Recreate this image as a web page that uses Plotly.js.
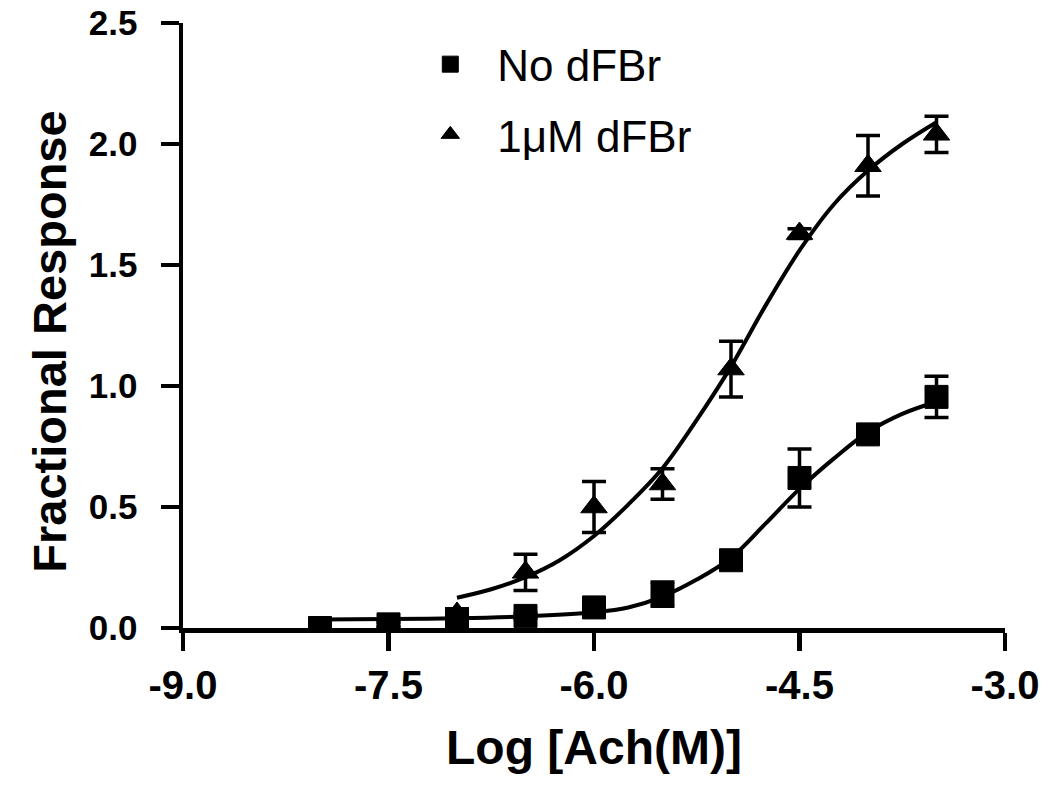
<!DOCTYPE html>
<html>
<head>
<meta charset="utf-8">
<script src="https://cdn.plot.ly/plotly-3.0.1.min.js"></script>
<style>html,body{margin:0;padding:0;background:#fff;}#chart{width:1050px;height:785px;}</style>
</head>
<body>
<div id="chart"></div>
<script>
// Measured points (log concentration of Ach)
const logAchNo = [-8.0, -7.5, -7.0, -6.5, -6.0, -5.5, -5.0, -4.5, -4.0, -3.5];
const respNo = [0.00, 0.015, 0.03, 0.05, 0.085, 0.14, 0.28, 0.62, 0.80, 0.955];
const errNo = [0.01, 0.01, 0.01, 0.01, 0.015, 0.05, 0.02, 0.12, 0.02, 0.085];

const logAchD = [-7.0, -6.5, -6.0, -5.5, -5.0, -4.5, -4.0, -3.5];
const respD = [0.06, 0.23, 0.50, 0.595, 1.07, 1.63, 1.91, 2.04];
const errD = [0.02, 0.075, 0.105, 0.063, 0.115, 0.02, 0.125, 0.075];

// Fitted curves
const fitXNo = [-8.0, -7.5, -7.0, -6.5, -6.0, -5.75, -5.5, -5.25, -5.0, -4.75, -4.5, -4.25, -4.0, -3.75, -3.5];
const fitYNo = [0.035, 0.037, 0.040, 0.048, 0.065, 0.085, 0.13, 0.20, 0.29, 0.43, 0.575, 0.70, 0.81, 0.885, 0.935];
const fitXD = [-7.0, -6.75, -6.5, -6.25, -6.0, -5.75, -5.5, -5.25, -5.0, -4.75, -4.5, -4.25, -4.0, -3.75, -3.5];
const fitYD = [0.125, 0.16, 0.21, 0.28, 0.38, 0.51, 0.66, 0.86, 1.08, 1.33, 1.56, 1.75, 1.89, 2.00, 2.09];

const xTickVals = [-9.0, -7.5, -6.0, -4.5, -3.0];
const xTickText = ['-9.0', '-7.5', '-6.0', '-4.5', '-3.0'];
const yTickVals = [0.0, 0.5, 1.0, 1.5, 2.0, 2.5];
const yTickText = ['0.0', '0.5', '1.0', '1.5', '2.0', '2.5'];

const seriesNames = ['No dFBr', '1\u03bcM dFBr'];
const xTitle = 'Log [Ach(M)]';
const yTitle = 'Fractional Response';

const FONT = 'Liberation Sans, Arial, Helvetica, sans-serif';

const traces = [
  {x: fitXNo, y: fitYNo, mode: 'lines', line: {color: '#000', width: 4, shape: 'spline'}, showlegend: false, hoverinfo: 'skip'},
  {x: fitXD, y: fitYD, mode: 'lines', line: {color: '#000', width: 4, shape: 'spline'}, showlegend: false, hoverinfo: 'skip'},
  {x: logAchNo, y: respNo, name: seriesNames[0], legendgroup: 'a', mode: 'markers',
   marker: {symbol: 'square', size: 23, color: '#000', line: {width: 1, color: '#000'}},
   error_y: {type: 'data', array: errNo, visible: true, color: '#000', thickness: 3.5, width: 12}},
  {x: logAchD, y: respD, name: seriesNames[1], legendgroup: 'b', mode: 'markers',
   marker: {symbol: 'triangle-up', size: 23, color: '#000', line: {width: 1, color: '#000'}},
   error_y: {type: 'data', array: errD, visible: true, color: '#000', thickness: 3.5, width: 12}}
];

const layout = {
  width: 1050, height: 785,
  margin: {l: 183, r: 45, t: 23, b: 157, pad: 0},
  paper_bgcolor: '#fff', plot_bgcolor: '#fff',
  font: {family: FONT, color: '#000'},
  showlegend: true,
  legend: {x: 0.268, y: 0.99, xanchor: 'left', yanchor: 'top', bgcolor: 'rgba(0,0,0,0)',
           font: {family: FONT, size: 44, color: '#000'}, itemwidth: 84, tracegroupgap: 10,
           traceorder: 'grouped'},
  xaxis: {
    range: [-9, -3], tickvals: xTickVals, ticktext: xTickText,
    showline: true, linecolor: '#000', linewidth: 4.5, mirror: false,
    ticks: 'outside', ticklen: 18, tickwidth: 4.5, tickcolor: '#000',
    tickfont: {family: FONT, size: 40, weight: 'bold', color: '#000'},
    showgrid: false, zeroline: false,
    title: {text: xTitle, font: {family: FONT, size: 48, weight: 'bold', color: '#000'}, standoff: 26}
  },
  yaxis: {
    range: [0, 2.5], tickvals: yTickVals, ticktext: yTickText,
    showline: true, linecolor: '#000', linewidth: 4.5,
    ticks: 'outside', ticklen: 18, tickwidth: 4.5, tickcolor: '#000',
    ticklabelstandoff: 16,
    tickfont: {family: FONT, size: 35, weight: 'bold', color: '#000'},
    showgrid: false, zeroline: false
  },
  annotations: [{
    text: yTitle, xref: 'paper', yref: 'paper', x: -0.162, y: 0.473,
    xanchor: 'center', yanchor: 'middle', textangle: -90, showarrow: false,
    font: {family: FONT, size: 47, weight: 'bold', color: '#000'}
  }]
};

Plotly.newPlot('chart', traces, layout, {displayModeBar: false, staticPlot: true});
</script>
</body>
</html>
